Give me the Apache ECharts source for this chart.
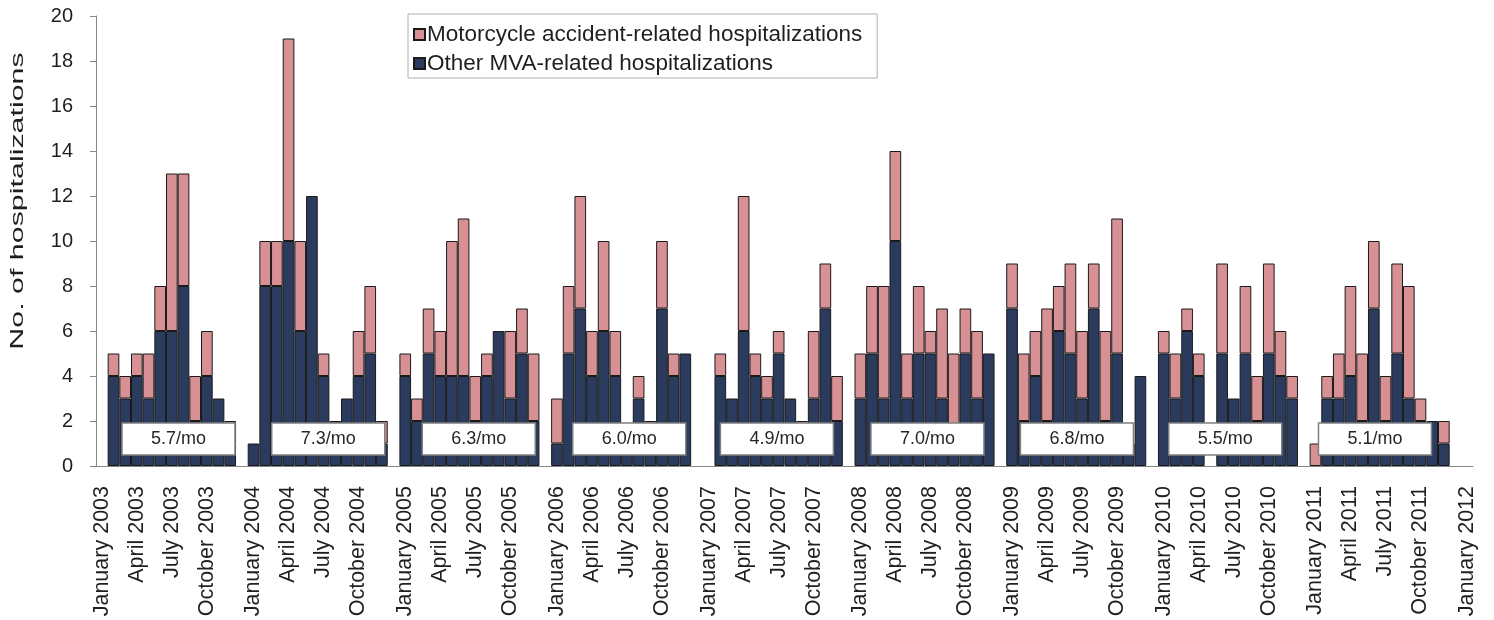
<!DOCTYPE html>
<html>
<head>
<meta charset="utf-8">
<script src="https://cdn.jsdelivr.net/npm/echarts@6/dist/echarts.min.js"></script>
<style>
  html, body { margin: 0; padding: 0; background: #fff; }
  #chart { width: 1494px; height: 620px; }
</style>
</head>
<body>
<div id="chart"></div>
<script>
// ---- data ----
const years = [2003, 2004, 2005, 2006, 2007, 2008, 2009, 2010, 2011];
const monthNames = ['January', 'February', 'March', 'April', 'May', 'June', 'July',
  'August', 'September', 'October', 'November', 'December'];
const labeledMonths = [0, 3, 6, 9];
// Other MVA-related hospitalizations (Jan..Dec) per year
const otherMVA = [
  [0, 4, 3, 4, 3, 6, 6, 8, 2, 4, 3, 1],
  [1, 8, 8, 10, 6, 12, 4, 2, 3, 4, 5, 1],
  [4, 2, 5, 4, 4, 4, 2, 4, 6, 3, 5, 2],
  [1, 5, 7, 4, 6, 4, 1, 3, 1, 7, 4, 5],
  [0, 4, 3, 6, 4, 3, 5, 3, 1, 3, 7, 2],
  [3, 5, 3, 10, 3, 5, 5, 3, 1, 5, 3, 5],
  [7, 2, 4, 2, 6, 5, 3, 7, 2, 5, 1, 4],
  [5, 3, 6, 4, 0, 5, 3, 5, 2, 5, 4, 3],
  [0, 3, 3, 4, 2, 7, 2, 5, 3, 2, 2, 1]
];
// Motorcycle accident-related hospitalizations (Jan..Dec) per year
const motorcycle = [
  [0, 1, 1, 1, 2, 2, 7, 5, 2, 2, 0, 1],
  [0, 2, 2, 9, 4, 0, 1, 0, 0, 2, 3, 1],
  [1, 1, 2, 2, 6, 7, 2, 1, 0, 3, 2, 3],
  [2, 3, 5, 2, 4, 2, 0, 1, 1, 3, 1, 0],
  [0, 1, 0, 6, 1, 1, 1, 0, 1, 3, 2, 2],
  [2, 3, 5, 4, 2, 3, 1, 4, 4, 2, 3, 0],
  [2, 3, 2, 5, 2, 4, 3, 2, 4, 6, 0, 0],
  [1, 2, 1, 1, 0, 4, 0, 3, 2, 4, 2, 1],
  [1, 1, 2, 4, 3, 3, 2, 4, 5, 1, 0, 1]
];
const rateLabels = ['5.7/mo', '7.3/mo', '6.3/mo', '6.0/mo', '4.9/mo', '7.0/mo', '6.8/mo', '5.5/mo', '5.1/mo'];
const finalLabel = 'January 2012';
const seriesNames = ['Motorcycle accident-related hospitalizations', 'Other MVA-related hospitalizations'];
const yTitle = 'No. of hospitalizations';

// ---- layout / style (not data) ----
const boxMonthOffset = [6.57, 6.4, 6.3, 6.2, 5.85, 5.75, 5.56, 5.27, 5.1];
const FONT = 'Liberation Sans, Arial, sans-serif';

// ---- build categories (13 slots per year: 12 months + spacer) ----
const categories = [];
const tickLabels = [];
const otherData = [];
const motoData = [];
years.forEach((y, yi) => {
  for (let m = 0; m < 12; m++) {
    categories.push(y + '-' + (m + 1));
    tickLabels.push(labeledMonths.includes(m) ? monthNames[m] + ' ' + y : '');
    const o = otherMVA[yi][m], p = motorcycle[yi][m];
    otherData.push(o === 0 ? '-' : o);
    motoData.push(p === 0 ? '-' : p);
  }
  categories.push(y + '-gap');
  tickLabels.push('');
  otherData.push('-');
  motoData.push('-');
});
categories.push('2012-1');
tickLabels.push(finalLabel);
otherData.push('-');
motoData.push('-');

const chart = echarts.init(document.getElementById('chart'));
const axisColor = '#868686';
const textColor = '#1f1f1f';

chart.setOption({
  animation: false,
  backgroundColor: '#fff',
  textStyle: { fontFamily: FONT },
  grid: { left: 96, right: 21, top: 16, bottom: 154, containLabel: false },
  legend: {
    orient: 'vertical',
    left: 408,
    top: 14,
    data: [seriesNames[0], seriesNames[1]],
    icon: 'rect',
    itemWidth: 11,
    itemHeight: 11,
    itemGap: 6,
    padding: [9, 15, 3, 5],
    borderColor: '#b0b0b0',
    borderWidth: 1,
    backgroundColor: '#fff',
    textStyle: { fontFamily: FONT, fontSize: 22.5, color: textColor, padding: [0, 0, 0, -3] }
  },
  xAxis: {
    type: 'category',
    data: categories,
    boundaryGap: true,
    axisLine: { lineStyle: { color: axisColor, width: 1 } },
    axisTick: { interval: 0, length: 6, lineStyle: { color: axisColor } },
    axisLabel: {
      interval: 0,
      rotate: 90,
      margin: 20,
      fontFamily: FONT,
      fontSize: 21.5,
      color: textColor,
      formatter: (v, i) => tickLabels[i]
    },
    splitLine: { show: false }
  },
  yAxis: {
    type: 'value',
    min: 0,
    max: 20,
    interval: 2,
    axisLine: { show: true, lineStyle: { color: axisColor, width: 1 } },
    axisTick: { show: true, length: 6, lineStyle: { color: axisColor } },
    axisLabel: { fontFamily: FONT, fontSize: 20, color: textColor, margin: 23 },
    splitLine: { show: false }
  },
  series: [
    {
      name: seriesNames[1],
      type: 'bar',
      stack: 'total',
      data: otherData,
      barWidth: '100%',
      barCategoryGap: '0%',
      itemStyle: { color: '#2b3b5e', borderColor: '#1a1a1a', borderWidth: 1 }
    },
    {
      name: seriesNames[0],
      type: 'bar',
      stack: 'total',
      data: motoData,
      barWidth: '100%',
      barCategoryGap: '0%',
      itemStyle: { color: '#d79194', borderColor: '#1a1a1a', borderWidth: 1 }
    }
  ]
});

// annotation boxes and y-axis title
const x0 = chart.convertToPixel({ xAxisIndex: 0 }, 0);
const x1 = chart.convertToPixel({ xAxisIndex: 0 }, 1);
const slotW = x1 - x0;
const boxCenterY = chart.convertToPixel({ yAxisIndex: 0 }, 1.2);
const boxW = 113, boxH = 32;
const graphics = [];
years.forEach((y, yi) => {
  const firstSlot = yi * 13;
  const cx = chart.convertToPixel({ xAxisIndex: 0 }, firstSlot) + boxMonthOffset[yi] * slotW;
  graphics.push({
    type: 'rect',
    z: 100,
    shape: { x: cx - boxW / 2, y: boxCenterY - boxH / 2, width: boxW, height: boxH },
    style: { fill: '#fff', stroke: '#808080', lineWidth: 1.5 }
  });
  graphics.push({
    type: 'text',
    z: 101,
    x: cx,
    y: boxCenterY,
    style: {
      text: rateLabels[yi],
      fill: '#262626',
      font: '18px ' + FONT,
      align: 'center',
      verticalAlign: 'middle'
    }
  });
});
graphics.push({
  type: 'text',
  z: 101,
  x: 18,
  y: 201,
  rotation: Math.PI / 2,
  scaleX: 1.6,
  scaleY: 1,
  style: {
    text: yTitle,
    fill: textColor,
    font: '19px ' + FONT,
    align: 'center',
    verticalAlign: 'middle'
  }
});
chart.setOption({ graphic: graphics });
</script>
</body>
</html>
